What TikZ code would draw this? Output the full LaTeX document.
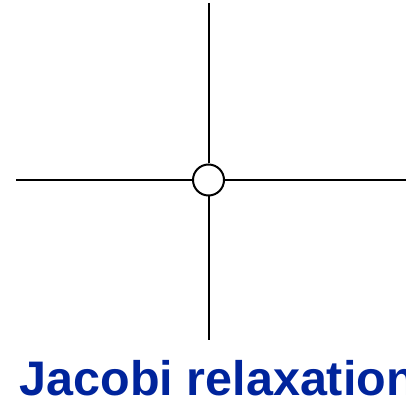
\documentclass[tikz,border=0pt]{standalone}
\usepackage{fontspec}
\setmainfont{Liberation Sans}
\definecolor{titleblue}{RGB}{0,36,156}
\begin{document}
\begin{tikzpicture}[x=1pt,y=1pt,
  wire/.style={line width=2pt,black},
  site/.style={circle,draw=black,line width=2pt,fill=white,minimum size=31pt,inner sep=0pt},
  title/.style={font=\fontsize{48.5}{53}\selectfont\bfseries,text=titleblue,inner sep=0pt}]
\useasboundingbox (0,0) rectangle (406,401);
\node[site] (c) at (208.5,221) {};
\coordinate (top) at (208.5,398);
\coordinate (bot) at (208.5,61);
\coordinate (lft) at (16,221);
\coordinate (rgt) at (406,221);
\draw[wire] (top) -- (c.north);
\draw[wire] (c.south) -- (bot);
\draw[wire] (lft) -- (c.west);
\draw[wire] (c.east) -- (rgt);
\node[title,anchor=base west] (t) at (19.5,5.5) {Jacobi relaxation};
\end{tikzpicture}
\end{document}
